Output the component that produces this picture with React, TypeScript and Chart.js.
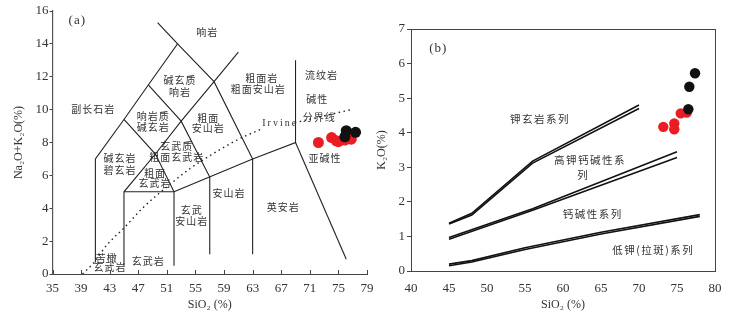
import React, { useEffect, useRef } from "react";
import { Chart, registerables } from "chart.js";
Chart.register(...registerables);

// ---------- Panel (a): TAS diagram ----------
const tasXMin = 35, tasXMax = 79, tasXStep = 4;
const tasYMin = 0, tasYMax = 16, tasYStep = 2;

const tasRedSiO2 = [72.2, 74.05, 75.0, 75.9, 76.8, 74.7];
const tasRedAlk = [8.0, 8.3, 8.05, 8.15, 8.2, 8.1];
const tasBlackSiO2 = [75.9, 76.1, 77.4];
const tasBlackAlk = [8.35, 8.72, 8.62];

// field boundaries (SiO2, Na2O+K2O)
const tasLineA = [[41, 0.7], [41, 7], [45, 9.4], [48.4, 11.5], [52.5, 14], [49.7, 15.3]];
const tasLineB = [[52.5, 14], [57.6, 11.7], [63, 7]];
const tasLineC = [[57.6, 11.7], [61, 13.5]];
const tasLineD = [[45, 9.4], [49.4, 7.3], [52, 5]];
const tasLineE = [[48.4, 11.5], [53, 9.3], [57, 5.9], [57, 1.2]];
const tasLineF = [[45, 0.5], [45, 5], [49.4, 7.3], [53, 9.3], [57.6, 11.7]];
const tasLineG = [[45, 5], [52, 5], [52, 0.5]];
const tasLineH = [[52, 5], [63, 7], [69, 8], [69, 13]];
const tasLineI = [[63, 7], [63, 1.2]];
const tasLineJ = [[69, 8], [76.1, 0.9]];
const tasBoundaries = [tasLineA, tasLineB, tasLineC, tasLineD, tasLineE, tasLineF, tasLineG, tasLineH, tasLineI, tasLineJ];

// Irvine alkaline / subalkaline divide (dotted)
const irvineLow = [[39.2, 0], [40.7, 0.65], [42.6, 1.76], [45, 2.8], [47.7, 4.05], [51, 5.3], [54.2, 6.4], [56.1, 6.95], [60.8, 8.15], [64.2, 8.82]];
const irvineHigh = [[68.9, 9.2], [73, 9.62], [76.8, 10.0]];

const tasNames = [
  { t: "(a)", x: 38.47, y: 15.41, serif: true },
  { t: "响岩", x: 56.65, y: 14.7 },
  { t: "碱玄质", x: 52.83, y: 11.8 },
  { t: "响岩", x: 52.83, y: 11.09 },
  { t: "粗面岩", x: 64.26, y: 11.9 },
  { t: "粗面安山岩", x: 63.78, y: 11.23 },
  { t: "流纹岩", x: 72.65, y: 12.1 },
  { t: "副长石岩", x: 40.71, y: 10.02 },
  { t: "响岩质", x: 49.1, y: 9.57 },
  { t: "碱玄岩", x: 49.1, y: 8.96 },
  { t: "粗面", x: 56.79, y: 9.47 },
  { t: "安山岩", x: 56.79, y: 8.86 },
  { t: "碱性", x: 72.03, y: 10.63 },
  { t: "分界线", x: 72.31, y: 9.53 },
  { t: "Irvine", x: 66.85, y: 9.17, serif: true, small: true },
  { t: "玄武质", x: 52.37, y: 7.8 },
  { t: "粗面玄武岩", x: 52.37, y: 7.1 },
  { t: "碱玄岩", x: 44.44, y: 7.04 },
  { t: "碧玄岩", x: 44.44, y: 6.33 },
  { t: "粗面", x: 49.34, y: 6.13 },
  { t: "玄武岩", x: 49.34, y: 5.52 },
  { t: "亚碱性", x: 73.11, y: 7.04 },
  { t: "安山岩", x: 59.69, y: 4.91 },
  { t: "英安岩", x: 67.28, y: 4.09 },
  { t: "玄武", x: 54.47, y: 3.89 },
  { t: "安山岩", x: 54.47, y: 3.24 },
  { t: "苦橄", x: 42.58, y: 0.95 },
  { t: "玄武岩", x: 43.04, y: 0.41 },
  { t: "玄武岩", x: 48.4, y: 0.75 },
];

// ---------- Panel (b): K2O vs SiO2 ----------
const kXMin = 40, kXMax = 80, kXStep = 5;
const kYMin = 0, kYMax = 7, kYStep = 1;

const kRedSiO2 = [73.2, 74.64, 74.64, 75.49, 76.28];
const kRedK2O = [4.17, 4.27, 4.1, 4.56, 4.58];
const kBlackSiO2 = [76.49, 76.62, 77.37];
const kBlackK2O = [4.68, 5.33, 5.72];

const shoLine1 = [[45, 1.38], [48, 1.67], [56, 3.18], [70, 4.8]];
const shoLine2 = [[45, 1.36], [48, 1.62], [56, 3.12], [70, 4.7]];
const hkLine1 = [[45, 0.97], [56, 1.8], [75, 3.45]];
const hkLine2 = [[45, 0.92], [56, 1.76], [75, 3.28]];
const lkLine1 = [[45, 0.2], [48, 0.3], [55, 0.67], [65, 1.12], [78, 1.63]];
const lkLine2 = [[45, 0.15], [48, 0.26], [55, 0.62], [65, 1.07], [78, 1.58]];
const kBoundaries = [shoLine1, shoLine2, hkLine1, hkLine2, lkLine1, lkLine2];

const kNames = [
  { t: "(b)", x: 43.59, y: 6.44, serif: true },
  { t: "钾玄岩系列", x: 56.97, y: 4.39 },
  { t: "高钾钙碱性系", x: 63.55, y: 3.21 },
  { t: "列", x: 62.67, y: 2.78 },
  { t: "钙碱性系列", x: 63.91, y: 1.64 },
  { t: "低钾(拉斑)系列", x: 71.88, y: 0.61 },
];

// ---------- helpers ----------
const SERIF = '"Liberation Serif", "Times New Roman", "DejaVu Serif", serif';
const CJK = '"Noto Sans CJK SC", "Noto Sans", sans-serif';
const TEXT = "#333";
const RED = "#ec1c24";
const BLACK = "#111";

const toPts = (xs: number[], ys: number[]) => xs.map((v, i) => ({ x: v, y: ys[i] }));
const pairPts = (arr: number[][]) => arr.map((p) => ({ x: p[0], y: p[1] }));

function namesPlugin(id: string, names: any[], cjkSize: number, spacing: number) {
  return {
    id,
    beforeDatasetsDraw(chart: any) {
      const { ctx, scales } = chart;
      ctx.save();
      ctx.fillStyle = TEXT;
      ctx.textAlign = "center";
      ctx.textBaseline = "middle";
      for (const n of names) {
        if (n.serif) {
          ctx.font = n.small ? `10px ${SERIF}` : `13px ${SERIF}`;
          (ctx as any).letterSpacing = n.small ? "2px" : "1px";
        } else {
          ctx.font = `${cjkSize}px ${CJK}`;
          (ctx as any).letterSpacing = `${spacing}px`;
        }
        ctx.fillText(n.t, scales.x.getPixelForValue(n.x), scales.y.getPixelForValue(n.y));
      }
      ctx.restore();
    },
  };
}

const inwardTicks = {
  id: "inwardTicks",
  afterDraw(chart: any) {
    const { ctx, scales, chartArea } = chart;
    ctx.save();
    ctx.strokeStyle = "#444";
    ctx.lineWidth = 1;
    ctx.beginPath();
    for (const t of scales.x.ticks) {
      const px = Math.round(scales.x.getPixelForValue(t.value)) + 0.5;
      ctx.moveTo(px, chartArea.bottom);
      ctx.lineTo(px, chartArea.bottom - 4);
    }
    ctx.stroke();
    ctx.restore();
  },
};

const frame = {
  id: "frame",
  afterDraw(chart: any) {
    const { ctx, chartArea } = chart;
    ctx.save();
    ctx.strokeStyle = "#444";
    ctx.lineWidth = 1;
    ctx.strokeRect(
      Math.round(chartArea.left) + 0.5,
      Math.round(chartArea.top) + 0.5,
      Math.round(chartArea.right - chartArea.left),
      Math.round(chartArea.bottom - chartArea.top)
    );
    ctx.restore();
  },
};

function lineDs(arr: number[][], width: number, color: string, dash?: number[], smooth?: boolean) {
  return {
    type: "scatter",
    data: pairPts(arr),
    showLine: true,
    borderColor: color,
    borderWidth: width,
    borderDash: dash || [],
    pointRadius: 0,
    tension: smooth ? 0.4 : 0,
    cubicInterpolationMode: smooth ? "monotone" : "default",
    fill: false,
  };
}

function pointDs(xs: number[], ys: number[], color: string, r: number) {
  return {
    type: "scatter",
    data: toPts(xs, ys),
    backgroundColor: color,
    borderColor: color,
    borderWidth: 0,
    pointRadius: r,
    showLine: false,
  };
}

const tickFont = { family: SERIF, size: 13 };
const titleFont = { family: SERIF, size: 12 };

export default function App() {
  const refA = useRef<HTMLCanvasElement>(null);
  const refB = useRef<HTMLCanvasElement>(null);

  useEffect(() => {
    const chartA = new Chart(refA.current as HTMLCanvasElement, {
      type: "scatter",
      data: {
        datasets: [
          pointDs(tasBlackSiO2, tasBlackAlk, BLACK, 5.5),
          pointDs(tasRedSiO2, tasRedAlk, RED, 5.5),
          ...tasBoundaries.map((l) => lineDs(l, 1.1, "#222")),
          lineDs(irvineLow, 1.4, "#222", [1.5, 3.5], true),
          lineDs(irvineHigh, 1.4, "#222", [1.5, 3.5], true),
        ] as any,
      },
      options: {
        animation: false,
        responsive: false,
        maintainAspectRatio: false,
        layout: { padding: { left: 0, top: 11, right: 13, bottom: 0 } },
        plugins: { legend: { display: false }, tooltip: { enabled: false } },
        scales: {
          x: {
            type: "linear",
            min: tasXMin,
            max: tasXMax,
            ticks: { stepSize: tasXStep, font: tickFont, color: TEXT, padding: 3, maxRotation: 0, autoSkip: false },
            grid: { drawOnChartArea: false, tickLength: 4, color: "transparent" },
            border: { color: "#444", width: 1 },
            title: { display: true, text: "SiO₂ (%)", font: titleFont, color: TEXT, padding: { top: 0, bottom: 2 } },
            afterFit: (s: any) => { s.height = 40; },
          },
          y: {
            type: "linear",
            min: tasYMin,
            max: tasYMax,
            ticks: { stepSize: tasYStep, font: tickFont, color: TEXT, padding: 1, autoSkip: false },
            grid: { drawOnChartArea: false, tickLength: 3, color: "#444" },
            border: { color: "#555", width: 1.2 },
            title: { display: true, text: "Na₂O+K₂O(%)", font: titleFont, color: TEXT, padding: { top: 12, bottom: 0 } },
            afterFit: (s: any) => { s.width = 52.5; },
          },
        },
      } as any,
      plugins: [namesPlugin("tasNames", tasNames, 10, 1), inwardTicks],
    });

    const chartB = new Chart(refB.current as HTMLCanvasElement, {
      type: "scatter",
      data: {
        datasets: [
          pointDs(kBlackSiO2, kBlackK2O, BLACK, 5.2),
          pointDs(kRedSiO2, kRedK2O, RED, 5.2),
          ...kBoundaries.map((l) => lineDs(l, 1.6, "#111")),
        ] as any,
      },
      options: {
        animation: false,
        responsive: false,
        maintainAspectRatio: false,
        layout: { padding: { left: 0, top: 29, right: 16, bottom: 0 } },
        plugins: { legend: { display: false }, tooltip: { enabled: false } },
        scales: {
          x: {
            type: "linear",
            min: kXMin,
            max: kXMax,
            ticks: { stepSize: kXStep, font: tickFont, color: TEXT, padding: 6, maxRotation: 0, autoSkip: false },
            grid: { drawOnChartArea: false, tickLength: 4, color: "transparent" },
            border: { display: false },
            title: { display: true, text: "SiO₂ (%)", font: titleFont, color: TEXT, padding: { top: 0, bottom: 2 } },
            afterFit: (s: any) => { s.height = 43; },
          },
          y: {
            type: "linear",
            min: kYMin,
            max: kYMax,
            ticks: { stepSize: kYStep, font: tickFont, color: TEXT, padding: 2, autoSkip: false },
            grid: { drawOnChartArea: false, tickLength: 4, color: "#444" },
            border: { display: false },
            title: { display: true, text: "K₂O(%)", font: titleFont, color: TEXT, padding: { top: 5, bottom: 0 } },
            afterFit: (s: any) => { s.width = 41; },
          },
        },
      } as any,
      plugins: [namesPlugin("kNames", kNames, 10.5, 1.5), frame],
    });

    return () => {
      chartA.destroy();
      chartB.destroy();
    };
  }, []);

  return (
    <div style={{ position: "absolute", left: 0, top: 0, width: 731, height: 314, background: "#fff", overflow: "hidden" }}>
      <canvas ref={refA} width={380} height={314} style={{ position: "absolute", left: 0, top: 0, width: 380, height: 314 }} />
      <canvas ref={refB} width={361} height={314} style={{ position: "absolute", left: 370, top: 0, width: 361, height: 314 }} />
    </div>
  );
}
